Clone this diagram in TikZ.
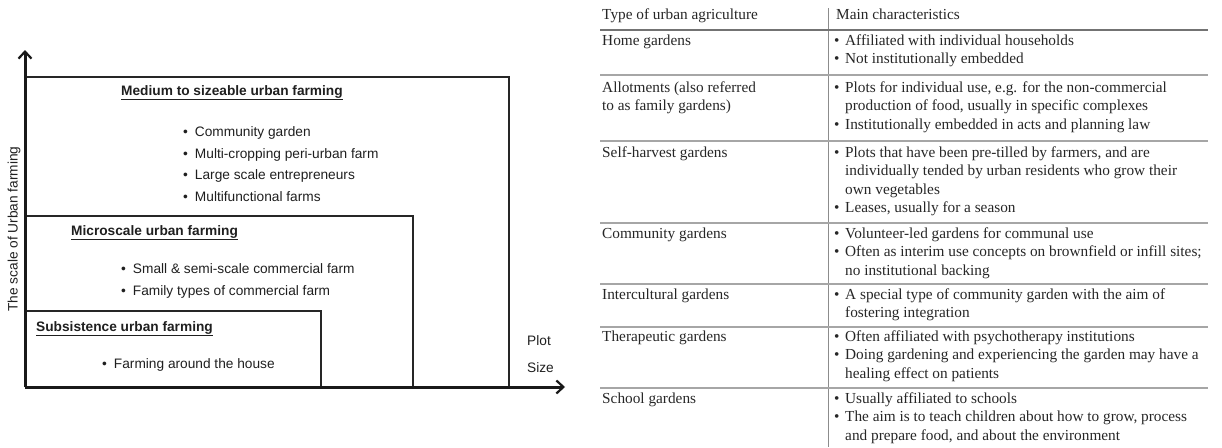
\documentclass[tikz,border=0pt]{standalone}
\usepackage{fontspec}
\setmainfont{Liberation Serif}
\newfontfamily\diagfont{Liberation Sans}
\usetikzlibrary{arrows.meta}
\begin{document}
\begin{tikzpicture}[x=1pt,y=-1pt,
  axis/.style={line width=3pt, black!90, -{Straight Barb[length=7pt,width=13pt,line width=2.2pt]}},
  tier/.style={line width=2.2pt, black!85},
  lbl/.style={font=\diagfont\fontsize{13.7}{16}\selectfont, text=black!88, inner sep=0pt, anchor=mid west},
  head/.style={lbl, font=\diagfont\bfseries\fontsize{13.7}{16}\selectfont},
  cell/.style={font=\fontsize{15.3}{18.5}\selectfont, text=black!85, inner sep=0pt, anchor=mid west},
  rule/.style={line width=1.6pt, black!35},
  toprule/.style={line width=2.2pt, black!55},
  colbar/.style={line width=1pt, black!45},
]
\useasboundingbox (0,0) rectangle (1222,447);

% ---------- scale of urban farming vs. plot size ----------
\coordinate (O) at (25,387);
\coordinate (ytip) at (25,50);
\coordinate (xtip) at (565,387);
\coordinate (bigTL) at (25,77);   \coordinate (bigTR) at (509,77);   \coordinate (bigBR) at (509,387);
\coordinate (midTL) at (25,216);  \coordinate (midTR) at (413,216);  \coordinate (midBR) at (413,387);
\coordinate (smlTL) at (25,311);  \coordinate (smlTR) at (321,311);  \coordinate (smlBR) at (321,387);

\draw[tier] (bigTL) -- (bigTR) -- (bigBR);
\draw[tier] (midTL) -- (midTR) -- (midBR);
\draw[tier] (smlTL) -- (smlTR) -- (smlBR);
\draw[axis] (O) -- (ytip);
\draw[axis] (O) -- (xtip);

\node[head] (medH) at (121,93) {\underline{Medium to sizeable urban farming}};
\node[lbl] (med1) at (183,134) {\textbullet\hspace{7pt}Community garden};
\node[lbl] (med2) at (183,156) {\textbullet\hspace{7pt}Multi-cropping peri-urban farm};
\node[lbl] (med3) at (183,177) {\textbullet\hspace{7pt}Large scale entrepreneurs};
\node[lbl] (med4) at (183,199) {\textbullet\hspace{7pt}Multifunctional farms};

\node[head] (micH) at (71,233) {\underline{Microscale urban farming}};
\node[lbl] (mic1) at (121,271) {\textbullet\hspace{7pt}Small \& semi-scale commercial farm};
\node[lbl] (mic2) at (121,293) {\textbullet\hspace{7pt}Family types of commercial farm};

\node[head] (subH) at (36,329) {\underline{Subsistence urban farming}};
\node[lbl] (sub1) at (102,366) {\textbullet\hspace{7pt}Farming around the house};

\node[lbl] (plot) at (527,343) {Plot};
\node[lbl] (size) at (527,370) {Size};
\node[lbl, anchor=center, rotate=90] (yl) at (14,229) {The scale of Urban farming};

% ---------- table of urban agriculture types ----------
\coordinate (barT) at (828,8);  \coordinate (barB) at (828,447);
\draw[colbar] (barT) -- (barB);
\foreach \y in {75,141,223,284,327,388}{
  \draw[rule] (600,\y) -- (1208,\y);
}
\draw[toprule] (600,30) -- (1208,30);

\newcommand{\bul}{\makebox[11pt][l]{\textbullet}}

\node[cell] (h1) at (602,17) {Type of urban agriculture};
\node[cell] (h2) at (836,17) {Main characteristics};

\node[cell] (t1) at (602,43) {Home gardens};
\node[cell] (c1a) at (834,43) {\bul Affiliated with individual households};
\node[cell] (c1b) at (834,61.5) {\bul Not institutionally embedded};

\node[cell] (t2a) at (602,90) {Allotments (also referred};
\node[cell] (t2b) at (602,108.5) {to as family gardens)};
\node[cell] (c2a) at (834,90) {\bul Plots for individual use, e.g. for the non-commercial};
\node[cell] (c2b) at (845,108.5) {production of food, usually in specific complexes};
\node[cell] (c2c) at (834,127) {\bul Institutionally embedded in acts and planning law};

\node[cell] (t3) at (602,155) {Self-harvest gardens};
\node[cell] (c3a) at (834,155) {\bul Plots that have been pre-tilled by farmers, and are};
\node[cell] (c3b) at (845,173.5) {individually tended by urban residents who grow their};
\node[cell] (c3c) at (845,192) {own vegetables};
\node[cell] (c3d) at (834,210.5) {\bul Leases, usually for a season};

\node[cell] (t4) at (602,236) {Community gardens};
\node[cell] (c4a) at (834,236) {\bul Volunteer-led gardens for communal use};
\node[cell] (c4b) at (834,254.5) {\bul Often as interim use concepts on brownfield or infill sites;};
\node[cell] (c4c) at (845,273) {no institutional backing};

\node[cell] (t5) at (602,297) {Intercultural gardens};
\node[cell] (c5a) at (834,297) {\bul A special type of community garden with the aim of};
\node[cell] (c5b) at (845,315.5) {fostering integration};

\node[cell] (t6) at (602,339) {Therapeutic gardens};
\node[cell] (c6a) at (834,339) {\bul Often affiliated with psychotherapy institutions};
\node[cell] (c6b) at (834,357.5) {\bul Doing gardening and experiencing the garden may have a};
\node[cell] (c6c) at (845,376) {healing effect on patients};

\node[cell] (t7) at (602,401) {School gardens};
\node[cell] (c7a) at (834,401) {\bul Usually affiliated to schools};
\node[cell] (c7b) at (834,419.5) {\bul The aim is to teach children about how to grow, process};
\node[cell] (c7c) at (845,438) {and prepare food, and about the environment};
\end{tikzpicture}
\end{document}
